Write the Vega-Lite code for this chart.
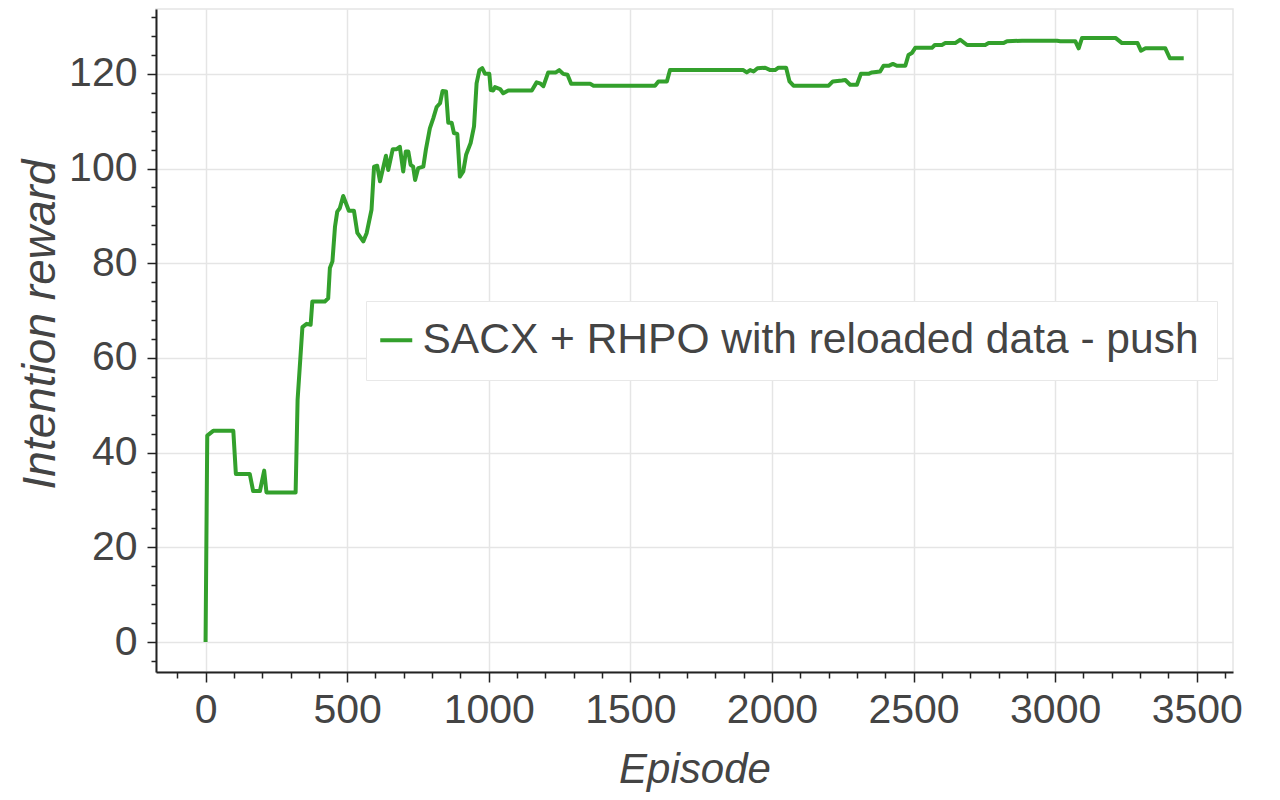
{
  "$schema": "https://vega.github.io/schema/vega-lite/v6.json",
  "width": 1077,
  "height": 663,
  "autosize": "none",
  "padding": {"left": 156, "top": 9, "right": 47, "bottom": 128},
  "background": "white",
  "config": {
    "font": "Liberation Sans",
    "view": {"stroke": "#e5e5e5", "strokeWidth": 1.5},
    "axis": {
      "domainColor": "#222222",
      "domainWidth": 2,
      "tickColor": "#222222",
      "tickWidth": 1.5,
      "gridColor": "#e5e5e5",
      "gridWidth": 1.5,
      "labelFont": "Liberation Sans",
      "labelFontSize": 41,
      "labelColor": "#444444",
      "titleFont": "Liberation Sans",
      "titleFontSize": 42,
      "titleFontStyle": "italic",
      "titleFontWeight": "normal",
      "titleColor": "#444444",
      "labelOverlap": false,
      "labelFlush": false
    }
  },
  "data": {
    "values": [
      {"episode": 0, "reward": 0, "series": "SACX + RHPO with reloaded data - push"},
      {"episode": 6, "reward": 43.6, "series": "SACX + RHPO with reloaded data - push"},
      {"episode": 27, "reward": 44.6, "series": "SACX + RHPO with reloaded data - push"},
      {"episode": 98, "reward": 44.6, "series": "SACX + RHPO with reloaded data - push"},
      {"episode": 107, "reward": 35.5, "series": "SACX + RHPO with reloaded data - push"},
      {"episode": 156, "reward": 35.5, "series": "SACX + RHPO with reloaded data - push"},
      {"episode": 168, "reward": 31.9, "series": "SACX + RHPO with reloaded data - push"},
      {"episode": 192, "reward": 31.9, "series": "SACX + RHPO with reloaded data - push"},
      {"episode": 207, "reward": 36.2, "series": "SACX + RHPO with reloaded data - push"},
      {"episode": 215, "reward": 31.6, "series": "SACX + RHPO with reloaded data - push"},
      {"episode": 318, "reward": 31.6, "series": "SACX + RHPO with reloaded data - push"},
      {"episode": 325, "reward": 51.2, "series": "SACX + RHPO with reloaded data - push"},
      {"episode": 342, "reward": 66.5, "series": "SACX + RHPO with reloaded data - push"},
      {"episode": 357, "reward": 67.2, "series": "SACX + RHPO with reloaded data - push"},
      {"episode": 371, "reward": 67, "series": "SACX + RHPO with reloaded data - push"},
      {"episode": 377, "reward": 71.9, "series": "SACX + RHPO with reloaded data - push"},
      {"episode": 421, "reward": 71.9, "series": "SACX + RHPO with reloaded data - push"},
      {"episode": 433, "reward": 72.6, "series": "SACX + RHPO with reloaded data - push"},
      {"episode": 439, "reward": 79, "series": "SACX + RHPO with reloaded data - push"},
      {"episode": 448, "reward": 80.4, "series": "SACX + RHPO with reloaded data - push"},
      {"episode": 457, "reward": 87.7, "series": "SACX + RHPO with reloaded data - push"},
      {"episode": 465, "reward": 90.9, "series": "SACX + RHPO with reloaded data - push"},
      {"episode": 474, "reward": 91.6, "series": "SACX + RHPO with reloaded data - push"},
      {"episode": 486, "reward": 94.2, "series": "SACX + RHPO with reloaded data - push"},
      {"episode": 506, "reward": 91.1, "series": "SACX + RHPO with reloaded data - push"},
      {"episode": 524, "reward": 91.1, "series": "SACX + RHPO with reloaded data - push"},
      {"episode": 536, "reward": 86.4, "series": "SACX + RHPO with reloaded data - push"},
      {"episode": 557, "reward": 84.6, "series": "SACX + RHPO with reloaded data - push"},
      {"episode": 569, "reward": 86.4, "series": "SACX + RHPO with reloaded data - push"},
      {"episode": 586, "reward": 91.3, "series": "SACX + RHPO with reloaded data - push"},
      {"episode": 595, "reward": 100.4, "series": "SACX + RHPO with reloaded data - push"},
      {"episode": 606, "reward": 100.6, "series": "SACX + RHPO with reloaded data - push"},
      {"episode": 616, "reward": 97.3, "series": "SACX + RHPO with reloaded data - push"},
      {"episode": 637, "reward": 102.7, "series": "SACX + RHPO with reloaded data - push"},
      {"episode": 645, "reward": 99.7, "series": "SACX + RHPO with reloaded data - push"},
      {"episode": 661, "reward": 104.1, "series": "SACX + RHPO with reloaded data - push"},
      {"episode": 675, "reward": 104.1, "series": "SACX + RHPO with reloaded data - push"},
      {"episode": 686, "reward": 104.6, "series": "SACX + RHPO with reloaded data - push"},
      {"episode": 698, "reward": 99.4, "series": "SACX + RHPO with reloaded data - push"},
      {"episode": 707, "reward": 103.6, "series": "SACX + RHPO with reloaded data - push"},
      {"episode": 716, "reward": 103.6, "series": "SACX + RHPO with reloaded data - push"},
      {"episode": 724, "reward": 100.8, "series": "SACX + RHPO with reloaded data - push"},
      {"episode": 733, "reward": 100.4, "series": "SACX + RHPO with reloaded data - push"},
      {"episode": 740, "reward": 97.6, "series": "SACX + RHPO with reloaded data - push"},
      {"episode": 751, "reward": 100.1, "series": "SACX + RHPO with reloaded data - push"},
      {"episode": 769, "reward": 100.4, "series": "SACX + RHPO with reloaded data - push"},
      {"episode": 778, "reward": 104, "series": "SACX + RHPO with reloaded data - push"},
      {"episode": 792, "reward": 108.5, "series": "SACX + RHPO with reloaded data - push"},
      {"episode": 804, "reward": 110.6, "series": "SACX + RHPO with reloaded data - push"},
      {"episode": 816, "reward": 113, "series": "SACX + RHPO with reloaded data - push"},
      {"episode": 828, "reward": 113.8, "series": "SACX + RHPO with reloaded data - push"},
      {"episode": 837, "reward": 116.4, "series": "SACX + RHPO with reloaded data - push"},
      {"episode": 849, "reward": 116.3, "series": "SACX + RHPO with reloaded data - push"},
      {"episode": 857, "reward": 109.7, "series": "SACX + RHPO with reloaded data - push"},
      {"episode": 869, "reward": 109.7, "series": "SACX + RHPO with reloaded data - push"},
      {"episode": 877, "reward": 107.5, "series": "SACX + RHPO with reloaded data - push"},
      {"episode": 889, "reward": 107.3, "series": "SACX + RHPO with reloaded data - push"},
      {"episode": 898, "reward": 98.3, "series": "SACX + RHPO with reloaded data - push"},
      {"episode": 910, "reward": 99.4, "series": "SACX + RHPO with reloaded data - push"},
      {"episode": 920, "reward": 102.9, "series": "SACX + RHPO with reloaded data - push"},
      {"episode": 936, "reward": 105.4, "series": "SACX + RHPO with reloaded data - push"},
      {"episode": 948, "reward": 108.9, "series": "SACX + RHPO with reloaded data - push"},
      {"episode": 957, "reward": 118, "series": "SACX + RHPO with reloaded data - push"},
      {"episode": 967, "reward": 120.8, "series": "SACX + RHPO with reloaded data - push"},
      {"episode": 977, "reward": 121.2, "series": "SACX + RHPO with reloaded data - push"},
      {"episode": 987, "reward": 120, "series": "SACX + RHPO with reloaded data - push"},
      {"episode": 1002, "reward": 120, "series": "SACX + RHPO with reloaded data - push"},
      {"episode": 1007, "reward": 116.6, "series": "SACX + RHPO with reloaded data - push"},
      {"episode": 1016, "reward": 116.5, "series": "SACX + RHPO with reloaded data - push"},
      {"episode": 1022, "reward": 117.2, "series": "SACX + RHPO with reloaded data - push"},
      {"episode": 1040, "reward": 116.8, "series": "SACX + RHPO with reloaded data - push"},
      {"episode": 1051, "reward": 115.9, "series": "SACX + RHPO with reloaded data - push"},
      {"episode": 1069, "reward": 116.5, "series": "SACX + RHPO with reloaded data - push"},
      {"episode": 1152, "reward": 116.5, "series": "SACX + RHPO with reloaded data - push"},
      {"episode": 1169, "reward": 118.2, "series": "SACX + RHPO with reloaded data - push"},
      {"episode": 1181, "reward": 118, "series": "SACX + RHPO with reloaded data - push"},
      {"episode": 1193, "reward": 117.4, "series": "SACX + RHPO with reloaded data - push"},
      {"episode": 1210, "reward": 120.3, "series": "SACX + RHPO with reloaded data - push"},
      {"episode": 1237, "reward": 120.3, "series": "SACX + RHPO with reloaded data - push"},
      {"episode": 1249, "reward": 120.8, "series": "SACX + RHPO with reloaded data - push"},
      {"episode": 1263, "reward": 120, "series": "SACX + RHPO with reloaded data - push"},
      {"episode": 1278, "reward": 119.8, "series": "SACX + RHPO with reloaded data - push"},
      {"episode": 1291, "reward": 117.9, "series": "SACX + RHPO with reloaded data - push"},
      {"episode": 1358, "reward": 117.9, "series": "SACX + RHPO with reloaded data - push"},
      {"episode": 1370, "reward": 117.5, "series": "SACX + RHPO with reloaded data - push"},
      {"episode": 1587, "reward": 117.5, "series": "SACX + RHPO with reloaded data - push"},
      {"episode": 1599, "reward": 118.4, "series": "SACX + RHPO with reloaded data - push"},
      {"episode": 1629, "reward": 118.4, "series": "SACX + RHPO with reloaded data - push"},
      {"episode": 1640, "reward": 120.8, "series": "SACX + RHPO with reloaded data - push"},
      {"episode": 1899, "reward": 120.8, "series": "SACX + RHPO with reloaded data - push"},
      {"episode": 1911, "reward": 120.3, "series": "SACX + RHPO with reloaded data - push"},
      {"episode": 1923, "reward": 120.8, "series": "SACX + RHPO with reloaded data - push"},
      {"episode": 1935, "reward": 120.5, "series": "SACX + RHPO with reloaded data - push"},
      {"episode": 1949, "reward": 121.2, "series": "SACX + RHPO with reloaded data - push"},
      {"episode": 1976, "reward": 121.3, "series": "SACX + RHPO with reloaded data - push"},
      {"episode": 1994, "reward": 120.8, "series": "SACX + RHPO with reloaded data - push"},
      {"episode": 2011, "reward": 120.8, "series": "SACX + RHPO with reloaded data - push"},
      {"episode": 2023, "reward": 121.3, "series": "SACX + RHPO with reloaded data - push"},
      {"episode": 2050, "reward": 121.3, "series": "SACX + RHPO with reloaded data - push"},
      {"episode": 2062, "reward": 118.4, "series": "SACX + RHPO with reloaded data - push"},
      {"episode": 2076, "reward": 117.5, "series": "SACX + RHPO with reloaded data - push"},
      {"episode": 2200, "reward": 117.5, "series": "SACX + RHPO with reloaded data - push"},
      {"episode": 2215, "reward": 118.4, "series": "SACX + RHPO with reloaded data - push"},
      {"episode": 2247, "reward": 118.6, "series": "SACX + RHPO with reloaded data - push"},
      {"episode": 2259, "reward": 118.7, "series": "SACX + RHPO with reloaded data - push"},
      {"episode": 2276, "reward": 117.7, "series": "SACX + RHPO with reloaded data - push"},
      {"episode": 2300, "reward": 117.7, "series": "SACX + RHPO with reloaded data - push"},
      {"episode": 2314, "reward": 120, "series": "SACX + RHPO with reloaded data - push"},
      {"episode": 2341, "reward": 120, "series": "SACX + RHPO with reloaded data - push"},
      {"episode": 2353, "reward": 120.3, "series": "SACX + RHPO with reloaded data - push"},
      {"episode": 2382, "reward": 120.5, "series": "SACX + RHPO with reloaded data - push"},
      {"episode": 2394, "reward": 121.7, "series": "SACX + RHPO with reloaded data - push"},
      {"episode": 2412, "reward": 121.7, "series": "SACX + RHPO with reloaded data - push"},
      {"episode": 2427, "reward": 122.1, "series": "SACX + RHPO with reloaded data - push"},
      {"episode": 2441, "reward": 121.7, "series": "SACX + RHPO with reloaded data - push"},
      {"episode": 2471, "reward": 121.7, "series": "SACX + RHPO with reloaded data - push"},
      {"episode": 2482, "reward": 124, "series": "SACX + RHPO with reloaded data - push"},
      {"episode": 2494, "reward": 124.4, "series": "SACX + RHPO with reloaded data - push"},
      {"episode": 2506, "reward": 125.5, "series": "SACX + RHPO with reloaded data - push"},
      {"episode": 2565, "reward": 125.5, "series": "SACX + RHPO with reloaded data - push"},
      {"episode": 2575, "reward": 126.1, "series": "SACX + RHPO with reloaded data - push"},
      {"episode": 2600, "reward": 126.1, "series": "SACX + RHPO with reloaded data - push"},
      {"episode": 2612, "reward": 126.5, "series": "SACX + RHPO with reloaded data - push"},
      {"episode": 2647, "reward": 126.5, "series": "SACX + RHPO with reloaded data - push"},
      {"episode": 2665, "reward": 127.2, "series": "SACX + RHPO with reloaded data - push"},
      {"episode": 2689, "reward": 126.1, "series": "SACX + RHPO with reloaded data - push"},
      {"episode": 2753, "reward": 126.1, "series": "SACX + RHPO with reloaded data - push"},
      {"episode": 2765, "reward": 126.5, "series": "SACX + RHPO with reloaded data - push"},
      {"episode": 2818, "reward": 126.5, "series": "SACX + RHPO with reloaded data - push"},
      {"episode": 2830, "reward": 126.9, "series": "SACX + RHPO with reloaded data - push"},
      {"episode": 2883, "reward": 127, "series": "SACX + RHPO with reloaded data - push"},
      {"episode": 3007, "reward": 127, "series": "SACX + RHPO with reloaded data - push"},
      {"episode": 3018, "reward": 126.9, "series": "SACX + RHPO with reloaded data - push"},
      {"episode": 3071, "reward": 126.9, "series": "SACX + RHPO with reloaded data - push"},
      {"episode": 3083, "reward": 125.4, "series": "SACX + RHPO with reloaded data - push"},
      {"episode": 3095, "reward": 127.6, "series": "SACX + RHPO with reloaded data - push"},
      {"episode": 3213, "reward": 127.6, "series": "SACX + RHPO with reloaded data - push"},
      {"episode": 3236, "reward": 126.5, "series": "SACX + RHPO with reloaded data - push"},
      {"episode": 3291, "reward": 126.5, "series": "SACX + RHPO with reloaded data - push"},
      {"episode": 3303, "reward": 124.9, "series": "SACX + RHPO with reloaded data - push"},
      {"episode": 3319, "reward": 125.4, "series": "SACX + RHPO with reloaded data - push"},
      {"episode": 3389, "reward": 125.4, "series": "SACX + RHPO with reloaded data - push"},
      {"episode": 3405, "reward": 123.3, "series": "SACX + RHPO with reloaded data - push"},
      {"episode": 3454, "reward": 123.3, "series": "SACX + RHPO with reloaded data - push"}
    ]
  },
  "mark": {"type": "line", "strokeWidth": 4, "strokeJoin": "round", "strokeCap": "butt", "clip": true},
  "encoding": {
    "x": {
      "field": "episode",
      "type": "quantitative",
      "scale": {"domain": [-175, 3628], "nice": false, "zero": false},
      "axis": {
        "title": "Episode",
        "values": [-100, 0, 100, 200, 300, 400, 500, 600, 700, 800, 900, 1000, 1100, 1200, 1300, 1400, 1500, 1600, 1700, 1800, 1900, 2000, 2100, 2200, 2300, 2400, 2500, 2600, 2700, 2800, 2900, 3000, 3100, 3200, 3300, 3400, 3500, 3600],
        "format": "d",
        "labelExpr": "datum.value % 500 === 0 ? datum.label : ''",
        "tickSize": {"condition": {"test": "datum.value % 500 === 0", "value": 10}, "value": 6},
        "gridOpacity": {"condition": {"test": "datum.value % 500 === 0", "value": 1}, "value": 0},
        "labelPadding": 8,
        "titleBaseline": "alphabetic",
        "titleY": 110,
        "titleAnchor": "middle"
      }
    },
    "y": {
      "field": "reward",
      "type": "quantitative",
      "scale": {"domain": [-6.33, 133.7], "nice": false, "zero": false},
      "axis": {
        "title": "Intention reward",
        "values": [-4, 0, 4, 8, 12, 16, 20, 24, 28, 32, 36, 40, 44, 48, 52, 56, 60, 64, 68, 72, 76, 80, 84, 88, 92, 96, 100, 104, 108, 112, 116, 120, 124, 128, 132],
        "format": "d",
        "labelExpr": "datum.value % 20 === 0 ? datum.label : ''",
        "tickSize": {"condition": {"test": "datum.value % 20 === 0", "value": 9}, "value": 5},
        "gridOpacity": {"condition": {"test": "datum.value % 20 === 0", "value": 1}, "value": 0},
        "labelPadding": 10,
        "titleFontSize": 46,
        "titleBaseline": "alphabetic",
        "titleAngle": 270,
        "titleX": -102,
        "titleY": 315,
        "titleAnchor": "middle"
      }
    },
    "color": {
      "field": "series",
      "type": "nominal",
      "scale": {"range": ["#33a02c"]},
      "legend": {
        "title": null,
        "orient": "none",
        "legendX": 210,
        "legendY": 292,
        "padding": 18,
        "fillColor": "white",
        "strokeColor": "#e8e8e8",
        "symbolType": "stroke",
        "symbolSize": 1024,
        "symbolStrokeWidth": 4,
        "symbolOffset": -9,
        "labelFont": "Liberation Sans",
        "labelFontSize": 42.5,
        "labelColor": "#444444",
        "labelOffset": 5,
        "labelLimit": 0
      }
    }
  }
}
